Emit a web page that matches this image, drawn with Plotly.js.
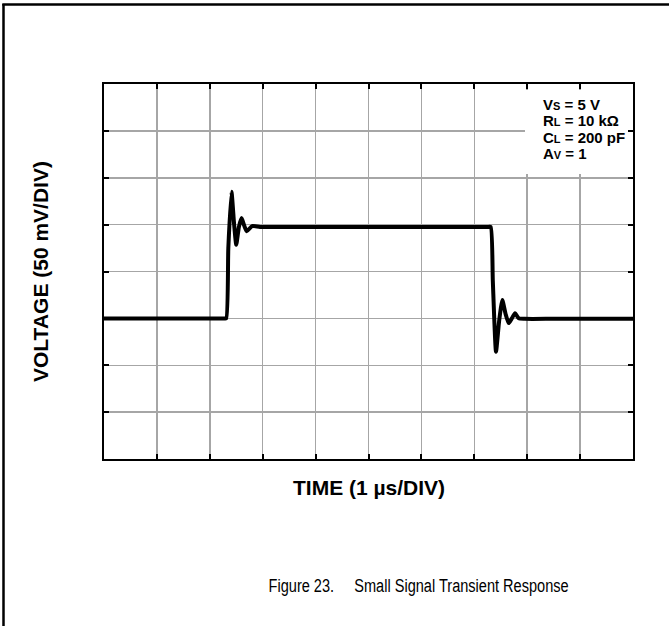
<!DOCTYPE html>
<html>
<head>
<meta charset="utf-8">
<script src="https://cdn.plot.ly/plotly-3.0.1.min.js"></script>
<style>
  html, body { margin: 0; padding: 0; background: #fff; }
  #chart { width: 669px; height: 626px; }
</style>
</head>
<body>
<div id="chart"></div>
<script>
// Time in divisions (1 µs/DIV), voltage in divisions (50 mV/DIV)
const timeDiv = [0, 1.5, 2.26, 2.31, 2.35, 2.41, 2.46, 2.50, 2.55, 2.60, 2.65, 2.70, 2.80, 2.95, 3.5,
                 6.5, 7.25, 7.31, 7.35, 7.41, 7.47, 7.53, 7.59, 7.65, 7.71, 7.77, 7.84, 7.95, 8.5, 10];
const voltDiv = [3.00, 3.00, 3.00, 3.00, 4.50, 5.70, 5.00, 4.57, 4.95, 5.14, 4.98, 4.86, 4.97, 4.95, 4.95,
                 4.95, 4.95, 4.95, 3.80, 2.29, 2.95, 3.39, 3.10, 2.90, 3.00, 3.11, 3.00, 2.99, 2.99, 2.99];

const xAxisTitle = "TIME (1 µs/DIV)";
const yAxisTitle = "VOLTAGE (50 mV/DIV)";
const caption = "Figure 23.&nbsp;&nbsp;&nbsp;&nbsp; Small Signal Transient Response";
const conditions = [
  'V<span style="font-size:11px">S</span> = 5 V',
  'R<span style="font-size:11px">L</span> = 10 kΩ',
  'C<span style="font-size:11px">L</span> = 200 pF',
  'A<span style="font-size:11px">V</span> = 1'
];

const W = 669, H = 626;
const M = {l: 104, r: 36, t: 84, b: 167};
const pw = W - M.l - M.r, ph = H - M.t - M.b;
const px = x => (x - M.l) / pw;
const py = y => (H - M.b - y) / ph;

const condY = [104, 120.5, 137, 153.5];
const annotations = conditions.map((t, i) => ({
  xref: 'paper', yref: 'paper', x: px(541), y: py(condY[i]),
  xanchor: 'left', yanchor: 'middle', showarrow: false, text: t,
  font: {family: 'Liberation Sans, Arial, sans-serif', size: 15, color: '#000', weight: 'bold'}
}));
annotations.push({
  xref: 'paper', yref: 'paper', x: px(369), y: py(487), xanchor: 'center', yanchor: 'middle',
  showarrow: false, text: '<b>' + xAxisTitle + '</b>',
  font: {family: 'Liberation Sans, Arial, sans-serif', size: 21, color: '#000'}
});
annotations.push({
  xref: 'paper', yref: 'paper', x: px(40), y: py(272), xanchor: 'center', yanchor: 'middle',
  showarrow: false, textangle: -90, text: '<b>' + yAxisTitle + '</b>',
  font: {family: 'Liberation Sans, Arial, sans-serif', size: 21, color: '#000'}
});
annotations.push({
  xref: 'paper', yref: 'paper', x: px(418), y: py(586), xanchor: 'center', yanchor: 'middle',
  showarrow: false, text: caption,
  font: {family: 'Liberation Sans, Arial, sans-serif', size: 18, color: '#000'}
});

const shapes = [
  {type: 'rect', xref: 'paper', yref: 'paper', x0: px(525), x1: px(628), y0: py(174), y1: py(90),
   fillcolor: '#fff', line: {width: 0}, layer: 'above'},
  {type: 'line', xref: 'paper', yref: 'paper', x0: px(3.5), x1: px(3.5), y0: py(4), y1: py(630),
   line: {color: '#000', width: 2.5}},
  {type: 'line', xref: 'paper', yref: 'paper', x0: px(2.3), x1: px(672), y0: py(4.5), y1: py(4.5),
   line: {color: '#000', width: 2.5}}
];

const trace = {
  x: timeDiv, y: voltDiv, type: 'scatter', mode: 'lines',
  line: {color: '#000', width: 4, shape: 'spline', smoothing: 0.5},
  hoverinfo: 'skip'
};

const axisCommon = {
  showgrid: true, gridcolor: '#a6a6a6', gridwidth: 1.5,
  zeroline: false, showticklabels: false,
  ticks: 'inside', ticklen: 5, tickwidth: 2, tickcolor: '#000',
  showline: true, linecolor: '#000', linewidth: 2, mirror: 'allticks',
  dtick: 1, tick0: 0, fixedrange: true
};

const layout = {
  width: W, height: H,
  margin: {l: M.l, r: M.r, t: M.t, b: M.b, pad: 0},
  paper_bgcolor: '#fff', plot_bgcolor: '#fff',
  showlegend: false,
  xaxis: Object.assign({}, axisCommon, {range: [0, 10]}),
  yaxis: Object.assign({}, axisCommon, {range: [0, 8]}),
  annotations: annotations,
  shapes: shapes
};

Plotly.newPlot('chart', [trace], layout, {staticPlot: true, displayModeBar: false}).then(gd => {
  // Condense the caption horizontally (reference uses a narrow face)
  const texts = gd.querySelectorAll('.annotation-text');
  const capEl = texts[texts.length - 1];
  if (capEl) {
    capEl.setAttribute('textLength', '300');
    capEl.setAttribute('lengthAdjust', 'spacingAndGlyphs');
  }
});
</script>
</body>
</html>
